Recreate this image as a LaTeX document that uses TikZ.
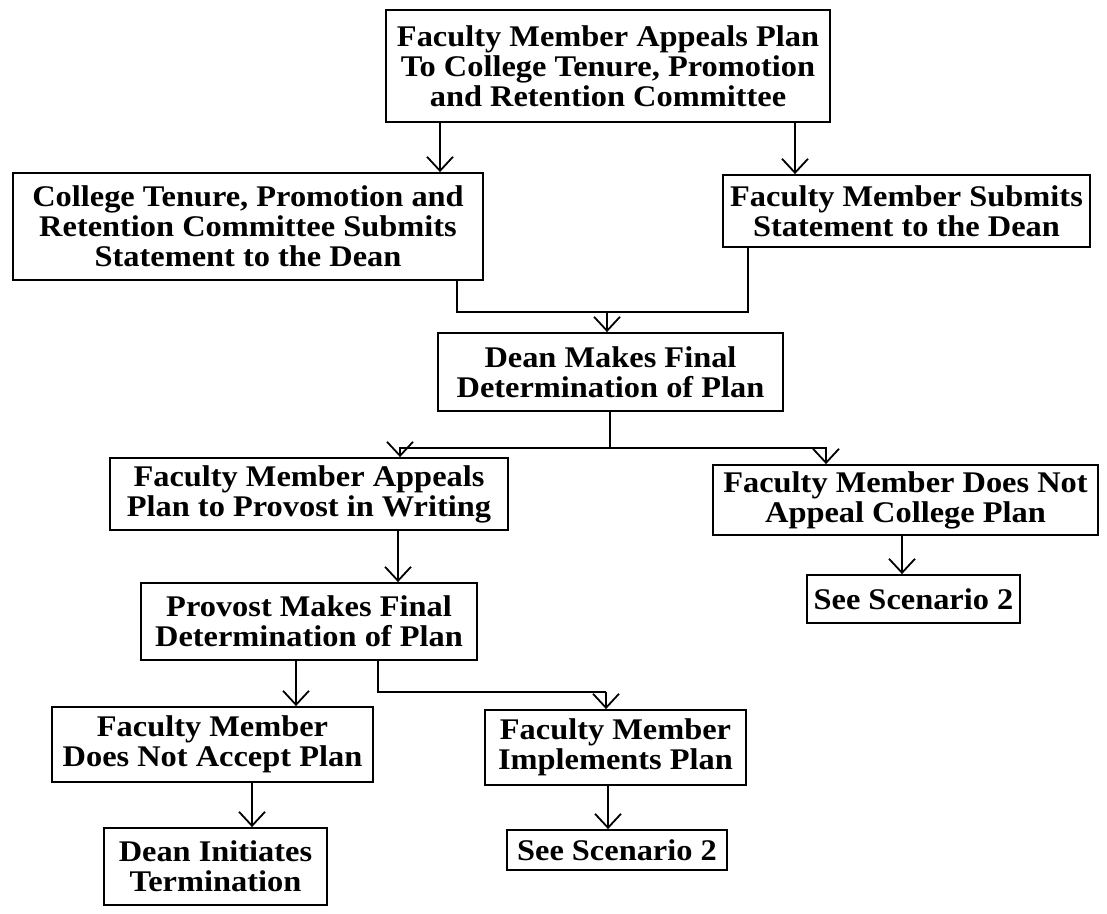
\documentclass[tikz,border=0pt]{standalone}
\usepackage{fontspec}
\setmainfont{Liberation Serif}[FakeStretch=1.08]
\usepackage{tikz}
\usetikzlibrary{arrows.meta}

\begin{document}
\begin{tikzpicture}[x=0.5pt,y=-0.5pt,
    box/.style={draw,line width=0.9pt,align=center,inner sep=1pt,
      font=\bfseries\fontsize{15}{15}\selectfont},
    flow/.style={line width=0.9pt,-{Straight Barb[length=7pt,width=13pt,line width=0.9pt]}},
    link/.style={line width=0.9pt}]
    \useasboundingbox (0,0) rectangle (1107,914);

    \node[box,minimum width=222pt,minimum height=56pt] (appeal) at (608,66)
      {Faculty Member Appeals Plan\\To College Tenure, Promotion\\and Retention Committee};
    \node[box,minimum width=235pt,minimum height=53.5pt] (college) at (248,226.5)
      {College Tenure, Promotion and\\Retention Committee Submits\\Statement to the Dean};
    \node[box,minimum width=183.5pt,minimum height=36pt] (submit) at (906.5,211)
      {Faculty Member Submits\\Statement to the Dean};
    \node[box,minimum width=172.5pt,minimum height=39pt] (dean) at (610.5,372)
      {Dean Makes Final\\Determination of Plan};
    \node[box,minimum width=199pt,minimum height=36pt] (provappeal) at (309,494)
      {Faculty Member Appeals\\Plan to Provost in Writing};
    \node[box,minimum width=192.5pt,minimum height=35pt] (noappeal) at (905.5,500)
      {Faculty Member Does Not\\Appeal College Plan};
    \node[box,minimum width=106.5pt,minimum height=24pt] (scenA) at (913.5,599)
      {See Scenario 2};
    \node[box,minimum width=168pt,minimum height=38.5pt] (provost) at (309,621.5)
      {Provost Makes Final\\Determination of Plan};
    \node[box,minimum width=160.5pt,minimum height=37.5pt] (notaccept) at (212.5,744.5)
      {Faculty Member\\Does Not Accept Plan};
    \node[box,minimum width=130.5pt,minimum height=37.5pt] (implements) at (615.5,747.5)
      {Faculty Member\\Implements Plan};
    \node[box,minimum width=111.5pt,minimum height=38.5pt] (terminate) at (215.5,866.5)
      {Dean Initiates\\Termination};
    \node[box,minimum width=110pt,minimum height=20pt] (scenB) at (617,850)
      {See Scenario 2};

    \coordinate (merge) at (607,312);
    \coordinate (split) at (610,448);
    \coordinate (fork) at (606,692);

    \draw[flow] (440,0 |- appeal.south) -- (440,0 |- college.north);
    \draw[flow] (795,0 |- appeal.south) -- (795,0 |- submit.north);
    \draw[link] (457,0 |- college.south) |- (merge);
    \draw[link] (748,0 |- submit.south) |- (merge);
    \draw[flow] (merge) -- (merge |- dean.north);
    \draw[link] (split |- dean.south) -- (split);
    \draw[flow] (split) -| (400,0 |- provappeal.north);
    \draw[flow] (split) -| (826,0 |- noappeal.north);
    \draw[flow] (398,0 |- provappeal.south) -- (398,0 |- provost.north);
    \draw[flow] (902,0 |- noappeal.south) -- (902,0 |- scenA.north);
    \draw[flow] (296,0 |- provost.south) -- (296,0 |- notaccept.north);
    \draw[link] (378,0 |- provost.south) |- (fork);
    \draw[flow] (fork) -- (fork |- implements.north);
    \draw[flow] (252,0 |- notaccept.south) -- (252,0 |- terminate.north);
    \draw[flow] (608,0 |- implements.south) -- (608,0 |- scenB.north);
\end{tikzpicture}
\end{document}
